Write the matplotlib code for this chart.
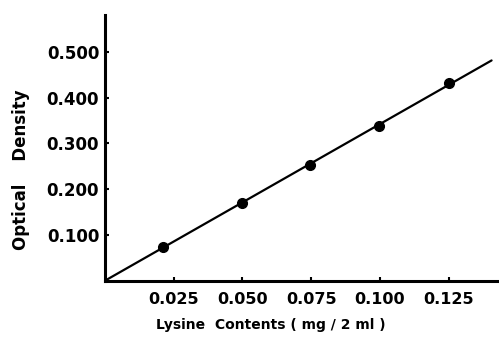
import matplotlib
matplotlib.use("Agg")
import matplotlib.pyplot as plt

# Data
point_x = [0.021, 0.050, 0.0745, 0.0996, 0.125]
point_y = [0.074, 0.170, 0.253, 0.338, 0.432]
line_x = [0.0, 0.1406]
line_y = [0.0, 0.481]
x_ticks = [0.025, 0.050, 0.075, 0.100, 0.125]
x_ticklabels = ["0.025", "0.050", "0.075", "0.100", "0.125"]
y_ticks = [0.1, 0.2, 0.3, 0.4, 0.5]
y_ticklabels = ["0.100", "0.200", "0.300", "0.400", "0.500"]

plt.rcParams['font.family'] = ['DejaVu Sans']

fig = plt.figure(figsize=(4.99, 3.51), dpi=100)
ax = fig.add_axes([0.21, 0.2, 0.79, 0.757])

ax.plot(line_x, line_y, color='black', lw=1.6, solid_capstyle='round')
ax.plot(point_x, point_y, 'o', color='black', markersize=7)

ax.set_xlim(0, 0.1433)
ax.set_ylim(0, 0.58)

ax.set_xticks(x_ticks)
ax.set_xticklabels(x_ticklabels, fontsize=11.5, fontweight='bold')
ax.set_yticks(y_ticks)
ax.set_yticklabels(y_ticklabels, fontsize=12, fontweight='bold')

ax.tick_params(axis='both', direction='in', length=3, width=1.5, color='black')
ax.tick_params(axis='x', pad=8)
ax.tick_params(axis='y', pad=4)

for s in ['top', 'right']:
    ax.spines[s].set_visible(False)
for s in ['left', 'bottom']:
    ax.spines[s].set_linewidth(2.2)

ax.set_xlabel("Lysine  Contents ( mg / 2 ml )", fontsize=10, fontweight='bold')
ax.set_ylabel("Optical    Density", fontsize=12, fontweight='bold')
ax.xaxis.set_label_coords(0.42, -0.14)
ax.yaxis.set_label_coords(-0.19, 0.42)

fig.savefig("out.png", dpi=100)
